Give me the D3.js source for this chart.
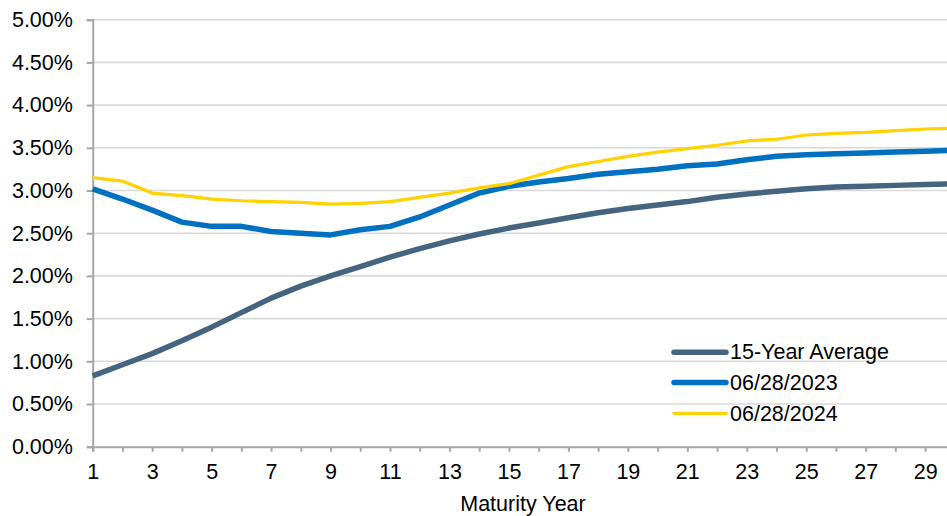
<!DOCTYPE html>
<html>
<head>
<meta charset="utf-8">
<script src="https://cdn.jsdelivr.net/npm/d3@7"></script>
<style>
  html, body { margin: 0; padding: 0; background: #fff; }
  svg { display: block; font-family: Arial, "Liberation Sans", sans-serif; }
</style>
</head>
<body>
<svg id="chart" width="947" height="516"></svg>
<script>
// ---- data ----
const years = d3.range(1, 31);
const avg15 = [0.83, 0.96, 1.09, 1.24, 1.40, 1.57, 1.74, 1.88, 2.00, 2.11,
               2.22, 2.32, 2.41, 2.49, 2.56, 2.62, 2.68, 2.74, 2.79, 2.83,
               2.87, 2.92, 2.96, 2.99, 3.02, 3.04, 3.05, 3.06, 3.07, 3.08];
const y2023 = [3.02, 2.90, 2.77, 2.63, 2.58, 2.58, 2.52, 2.50, 2.48, 2.54,
               2.58, 2.69, 2.83, 2.97, 3.05, 3.10, 3.14, 3.19, 3.22, 3.25,
               3.29, 3.31, 3.36, 3.40, 3.42, 3.43, 3.44, 3.45, 3.46, 3.47];
const y2024 = [3.15, 3.11, 2.97, 2.94, 2.90, 2.88, 2.87, 2.86, 2.84, 2.85,
               2.87, 2.92, 2.97, 3.03, 3.08, 3.18, 3.28, 3.34, 3.40, 3.45,
               3.49, 3.53, 3.58, 3.60, 3.65, 3.67, 3.68, 3.70, 3.72, 3.73];
const seriesNames = ["15-Year Average", "06/28/2023", "06/28/2024"];
const yTicks = [0, 0.5, 1, 1.5, 2, 2.5, 3, 3.5, 4, 4.5, 5];
const xTickLabels = [1, 3, 5, 7, 9, 11, 13, 15, 17, 19, 21, 23, 25, 27, 29];

// ---- styles ----
const colors = ["#45647f", "#0070c0", "#ffd200"];
const widths = [5.5, 5.5, 3.2];
const FS = 21.5;
const FONT = "Arial, 'Liberation Sans', sans-serif";

const svg = d3.select("#chart");
const plotLeft = 92.7, plotTop = 19.7, plotBottom = 446.7;
const x = d3.scaleLinear().domain([1, 30]).range([plotLeft, plotLeft + 29 * 29.73]);
const y = d3.scaleLinear().domain([0, 5]).range([plotBottom, plotTop]);

// gridlines
svg.append("g").selectAll("line").data(yTicks.filter(d => d > 0)).join("line")
  .attr("x1", plotLeft).attr("x2", 947)
  .attr("y1", d => y(d)).attr("y2", d => y(d))
  .attr("stroke", "#d9d9d9").attr("stroke-width", 1.6);

// y axis
const yAxis = svg.append("g").attr("transform", `translate(${plotLeft},0)`)
  .call(d3.axisLeft(y).tickValues(yTicks).tickFormat(d => d.toFixed(2) + "%")
        .tickSize(6).tickPadding(13.8));
yAxis.select(".domain").attr("stroke", "#a6a6a6").attr("stroke-width", 2);
yAxis.selectAll(".tick line").attr("stroke", "#a6a6a6").attr("stroke-width", 2);
yAxis.selectAll(".tick text").attr("font-size", FS).attr("fill", "#000")
  .attr("font-family", FONT);

// x axis
const xAxis = svg.append("g").attr("transform", `translate(0,${plotBottom})`)
  .call(d3.axisBottom(x).tickValues(years).tickSize(5).tickPadding(11.8)
        .tickFormat(d => xTickLabels.includes(d) ? d : ""));
xAxis.select(".domain").attr("stroke", "#a6a6a6").attr("stroke-width", 2);
xAxis.selectAll(".tick line").attr("stroke", "#a6a6a6").attr("stroke-width", 2);
xAxis.selectAll(".tick text").attr("font-size", FS).attr("fill", "#000")
  .attr("font-family", FONT);

// axis title
svg.append("text").attr("x", 523).attr("y", 511).attr("text-anchor", "middle")
  .attr("font-size", FS).attr("fill", "#000").text("Maturity Year");

// lines
const line = d3.line().x((d, i) => x(years[i])).y(d => y(d));
[avg15, y2023, y2024].forEach((s, k) => {
  svg.append("path").datum(s).attr("d", line)
    .attr("fill", "none").attr("stroke", colors[k]).attr("stroke-width", widths[k])
    .attr("stroke-linejoin", "round");
});

// legend
const legY = [352.3, 382.6, 413.3];
const legBase = [358.8, 389.8, 420.8];
seriesNames.forEach((n, k) => {
  svg.append("line").attr("x1", 674).attr("x2", 726)
    .attr("y1", legY[k]).attr("y2", legY[k])
    .attr("stroke", colors[k]).attr("stroke-width", widths[k]).attr("stroke-linecap", "round");
  svg.append("text").attr("x", 730).attr("y", legBase[k])
    .attr("font-size", FS).attr("fill", "#000").text(n);
});
</script>
</body>
</html>
